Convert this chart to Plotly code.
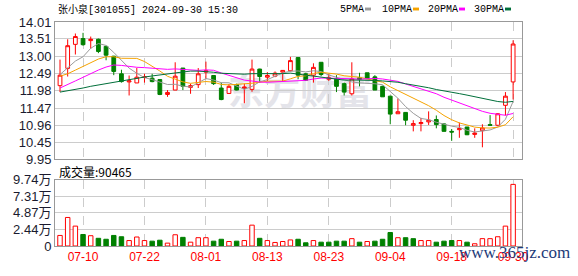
import plotly.graph_objects as go

# ---------------- data ----------------
dates = [
    "2024-07-05", "2024-07-08", "2024-07-09", "2024-07-10", "2024-07-11", "2024-07-12",
    "2024-07-15", "2024-07-16", "2024-07-17", "2024-07-18", "2024-07-19", "2024-07-22",
    "2024-07-23", "2024-07-24", "2024-07-25", "2024-07-26", "2024-07-29", "2024-07-30",
    "2024-07-31", "2024-08-01", "2024-08-02", "2024-08-05", "2024-08-06", "2024-08-07",
    "2024-08-08", "2024-08-09", "2024-08-12", "2024-08-13", "2024-08-14", "2024-08-15",
    "2024-08-16", "2024-08-19", "2024-08-20", "2024-08-21", "2024-08-22", "2024-08-23",
    "2024-08-26", "2024-08-27", "2024-08-28", "2024-08-29", "2024-08-30", "2024-09-02",
    "2024-09-03", "2024-09-04", "2024-09-05", "2024-09-06", "2024-09-09", "2024-09-10",
    "2024-09-11", "2024-09-12", "2024-09-13", "2024-09-18", "2024-09-19", "2024-09-20",
    "2024-09-23", "2024-09-24", "2024-09-25", "2024-09-26", "2024-09-27", "2024-09-30",
]
opens = [12.13, 12.64, 13.35, 13.52, 13.46, 13.50, 13.29, 13.00, 12.48, 12.24,
         12.21, 12.37, 12.35, 12.31, 11.87, 12.00, 12.65, 12.08, 12.16, 12.53,
         12.43, 12.06, 11.90, 12.16, 12.05, 12.02, 12.62, 12.38, 12.41, 12.53,
         12.57, 12.96, 12.48, 12.44, 12.82, 12.32, 12.32, 12.19, 11.89, 12.36,
         12.51, 12.39, 12.11, 11.82, 11.30, 11.34, 10.96, 11.01, 11.06, 11.13,
         11.00, 10.78, 10.83, 10.91, 10.69, 10.80, 10.98, 10.96, 11.55, 12.24]
highs = [12.90, 13.50, 13.67, 13.69, 13.58, 13.52, 13.31, 13.01, 12.60, 12.43,
         12.65, 12.48, 12.48, 12.31, 12.00, 12.82, 12.65, 12.19, 12.65, 12.84,
         12.43, 12.22, 12.18, 12.19, 12.19, 12.90, 12.63, 12.53, 12.55, 12.59,
         12.98, 12.96, 12.51, 12.79, 12.82, 12.48, 12.44, 12.22, 12.82, 12.51,
         12.51, 12.44, 12.13, 11.83, 11.75, 11.35, 11.11, 11.18, 11.37, 11.25,
         11.02, 10.85, 11.04, 10.91, 10.87, 10.99, 11.26, 11.32, 11.94, 13.47]
lows = [11.94, 12.40, 13.05, 13.31, 13.22, 13.09, 12.88, 12.44, 12.22, 11.84,
        12.21, 12.22, 12.23, 11.85, 11.80, 12.00, 12.00, 11.89, 12.06, 12.32,
        12.15, 11.70, 11.90, 11.99, 11.61, 11.95, 12.22, 12.27, 12.38, 12.27,
        12.55, 12.32, 12.27, 12.22, 12.41, 12.27, 11.94, 11.84, 11.84, 12.11,
        12.33, 12.00, 11.80, 10.99, 11.30, 10.96, 10.78, 10.78, 10.97, 10.87,
        10.78, 10.50, 10.59, 10.67, 10.59, 10.31, 10.96, 10.94, 11.25, 11.72]
closes = [12.44, 13.31, 13.58, 13.34, 13.50, 13.14, 13.03, 12.55, 12.25, 12.27,
          12.38, 12.39, 12.25, 11.87, 11.93, 12.41, 12.11, 12.13, 12.48, 12.57,
          12.19, 11.72, 12.11, 12.00, 12.09, 12.62, 12.40, 12.43, 12.50, 12.58,
          12.87, 12.44, 12.29, 12.67, 12.46, 12.36, 12.11, 11.94, 12.33, 12.32,
          12.34, 12.00, 11.80, 11.29, 11.36, 11.11, 11.01, 11.04, 11.11, 10.98,
          10.78, 10.76, 10.86, 10.68, 10.73, 10.88, 10.96, 11.30, 11.82, 13.36]
volumes = [15500, 41900, 29200, 16900, 15100, 11300, 9900, 15500, 13600, 8000,
           13200, 8000, 7100, 8500, 4200, 16500, 12700, 5600, 12200, 12200,
           7100, 9900, 6600, 7100, 8000, 30600, 11300, 8000, 5200, 6600,
           8900, 9900, 4700, 8000, 5600, 5600, 7100, 7100, 10800, 5600,
           6600, 7100, 9900, 19800, 12200, 12200, 10800, 8000, 8000, 5600,
           7100, 8000, 8000, 5600, 3300, 10800, 10800, 13600, 29200, 90465]
# closes of the 29 sessions before the window (estimated so the averages start where the picture shows)
prior_closes = [12.30, 12.20, 12.10, 12.00, 11.90, 11.60, 11.40, 11.30, 11.10, 11.10,
                11.40, 11.30, 11.20, 11.15, 11.20, 11.25, 11.34, 12.50, 12.90, 12.86,
                12.60, 12.50, 12.30, 12.26, 12.15, 12.35, 12.55, 12.70, 12.25]

price_ticks = [9.95, 10.45, 10.96, 11.47, 11.98, 12.49, 13.00, 13.51, 14.01]
price_tick_labels = ["9.95", "10.45", "10.96", "11.47", "11.98", "12.49", "13.00", "13.51", "14.01"]
vol_ticks = [0, 24400, 48700, 73100, 97400]
vol_tick_labels = ["0", "2.44万", "4.87万", "7.31万", "9.74万"]
date_ticks = dates[3::8]
date_tick_labels = [d[5:] for d in date_ticks]
ma_periods = [5, 10, 20, 30]
ma_names = ["5PMA", "10PMA", "20PMA", "30PMA"]
title_text = "张小泉[301055] 2024-09-30 15:30"
volume_title = "成交量:90465"

# ---------------- derived series ----------------
all_closes = prior_closes + closes
offset = len(prior_closes)


def moving_average(n):
    out = []
    for i in range(len(closes)):
        window = all_closes[offset + i - n + 1: offset + i + 1]
        out.append(sum(window) / n)
    return out


mas = [moving_average(n) for n in ma_periods]
prev_closes = [prior_closes[-1]] + closes[:-1]
vol_up = [c >= p for c, p in zip(closes, prev_closes)]

RED = "#ff0000"
GREEN = "#008000"
ma_colors = ["#9a9a9a", "#f5a300", "#ff00ff", "#006f3a"]

# ---------------- figure ----------------
W, H = 578, 276
L, R, T, B = 55, 56, 22, 21
pw, ph = W - L - R, H - T - B


def px_x(x):
    return (x - L) / pw


def px_y(y):
    return (H - B - y) / ph


fig = go.Figure()

fig.add_trace(go.Candlestick(
    x=dates, open=opens, high=highs, low=lows, close=closes,
    increasing=dict(line=dict(color=RED, width=1), fillcolor="#ffffff"),
    decreasing=dict(line=dict(color=GREEN, width=1), fillcolor=GREEN),
    whiskerwidth=0, xaxis="x", yaxis="y", hoverinfo="skip", showlegend=False,
))

for ma, col in zip(mas, ma_colors):
    fig.add_trace(go.Scatter(x=dates, y=ma, mode="lines",
                             line=dict(color=col, width=1),
                             xaxis="x", yaxis="y", hoverinfo="skip", showlegend=False))

fig.add_trace(go.Bar(
    x=dates, y=volumes, width=0.58,
    marker=dict(color=["#ffffff" if u else GREEN for u in vol_up],
                line=dict(color=[RED if u else GREEN for u in vol_up], width=1)),
    xaxis="x2", yaxis="y2", hoverinfo="skip", showlegend=False,
))

xr = [(L - 60) / 7.68, (W - R - 60) / 7.68]
axis_common = dict(showline=True, mirror=True, linecolor="#999999", linewidth=1,
                   zeroline=False, ticks="")
fig.update_layout(
    width=W, height=H, margin=dict(l=L, r=R, t=T, b=B),
    paper_bgcolor="#ffffff", plot_bgcolor="#ffffff",
    showlegend=False, hovermode=False, bargap=0,
    xaxis=dict(type="category", range=xr, domain=[0, 1], anchor="y",
               tickvals=date_ticks, showticklabels=False,
               showgrid=True, gridcolor="#cccccc", griddash="dash",
               rangeslider=dict(visible=False), **axis_common),
    xaxis2=dict(type="category", range=xr, domain=[0, 1], anchor="y2", matches="x",
                tickvals=date_ticks, ticktext=date_tick_labels,
                tickfont=dict(family="Liberation Sans, Arial", size=12, color=RED),
                showgrid=True, gridcolor="#cccccc", griddash="dash", **axis_common),
    yaxis=dict(domain=[px_y(165), 1], range=[price_ticks[0], price_ticks[-1]],
               tickvals=price_ticks, ticktext=price_tick_labels,
               tickfont=dict(family="Liberation Sans, Arial", size=13, color="#1a1a2e"),
               showgrid=True, gridcolor="#cccccc", **axis_common),
    yaxis2=dict(domain=[0, px_y(186)], range=[0, vol_ticks[-1]],
                tickvals=vol_ticks, ticktext=vol_tick_labels,
                tickfont=dict(family="Liberation Sans, Noto Sans CJK SC", size=13, color="#1a1a2e"),
                showgrid=True, gridcolor="#cccccc", **axis_common),
)

# watermark behind the data
fig.add_shape(type="rect", xref="paper", yref="paper",
              x0=px_x(215), x1=px_x(385), y0=px_y(115), y1=px_y(80),
              line=dict(width=0), fillcolor="rgba(0,0,0,0)", layer="below",
              label=dict(text="<b>东方财富</b>",
                         font=dict(family="Noto Sans CJK SC", size=36, color="#e4e4ea")))

ann = []
ann.append(dict(text=title_text, x=px_x(56), y=px_y(9), xref="paper", yref="paper",
                xanchor="left", yanchor="middle", showarrow=False,
                font=dict(family="Liberation Mono, Noto Sans CJK SC", size=10, color="#000000")))
ann.append(dict(text=volume_title, x=px_x(57), y=px_y(177), xref="paper", yref="paper",
                xanchor="left", yanchor="middle", showarrow=False,
                font=dict(family="Noto Sans CJK SC", size=12, color="#000000")))

legend_text_x = [338, 380, 426, 472]
legend_box_x = [365, 413, 459, 505]
for name, col, tx, bx in zip(ma_names, ma_colors, legend_text_x, legend_box_x):
    ann.append(dict(text=name, x=px_x(tx), y=px_y(9), xref="paper", yref="paper",
                    xanchor="left", yanchor="middle", showarrow=False,
                    font=dict(family="Liberation Mono", size=10, color="#000000")))
    fig.add_shape(type="rect", xref="paper", yref="paper",
                  x0=px_x(bx), x1=px_x(bx + 6), y0=px_y(10), y1=px_y(7),
                  line=dict(width=0), fillcolor=col)

ann.append(dict(text="www.365jz.com", x=px_x(514), y=px_y(262), xref="paper", yref="paper",
                xanchor="center", yanchor="middle", showarrow=False,
                font=dict(family="Liberation Serif", size=17, color="#1c3a78")))
fig.update_layout(annotations=ann)

fig.write_html("out.html", config=dict(displayModeBar=False, staticPlot=True))
